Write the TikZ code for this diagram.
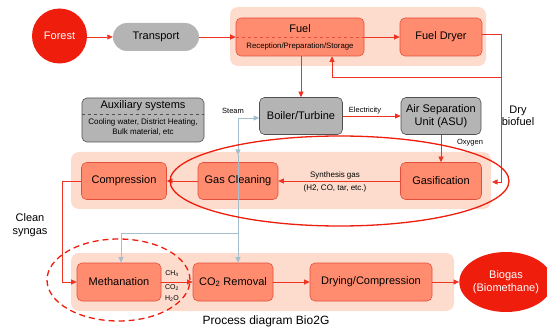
\documentclass[tikz,border=0pt]{standalone}
\usepackage{fontspec}
\setmainfont{Liberation Sans}
\usetikzlibrary{arrows.meta,shapes.geometric}
\definecolor{forestred}{HTML}{EE1D0C}
\definecolor{boxfill}{HTML}{FF8C6E}
\definecolor{boxline}{HTML}{E5503C}
\definecolor{grpbg}{HTML}{FDDCCD}
\definecolor{boxgray}{HTML}{B4B4B4}
\definecolor{grayline}{HTML}{505050}
\definecolor{flowred}{HTML}{EE3322}
\definecolor{steamc}{HTML}{A5BECD}
\begin{document}
\begin{tikzpicture}[x=1pt,y=-1pt,
  proc/.style={draw=boxline, fill=boxfill, rounded corners=5pt, line width=0.6pt, inner sep=0pt, font=\fontsize{11}{13}\selectfont, align=center},
  graybox/.style={draw=grayline, fill=boxgray, rounded corners=5pt, line width=0.6pt, inner sep=0pt, font=\fontsize{11}{13}\selectfont, align=center},
  grp/.style={fill=grpbg, rounded corners=8pt},
  flow/.style={draw=flowred, line width=0.6pt, -{Triangle[length=5.5pt,width=5pt]}},
  steamarrow/.style={draw=steamc, line width=0.7pt, -{Triangle[length=5.5pt,width=5pt]}},
  steamline/.style={draw=steamc, line width=0.7pt},
  lbl/.style={font=\fontsize{7.5}{8.5}\selectfont, inner sep=0pt},
  biglbl/.style={font=\fontsize{11}{12.5}\selectfont, inner sep=0pt, align=center},
  loop/.style={draw=forestred, line width=1.3pt},
]
\useasboundingbox (0,0) rectangle (547,329);
% group backgrounds
\path[grp] (230,7) rectangle (486,66);
\path[grp] (71,152) rectangle (491,209);
\path[grp] (71,253) rectangle (454,311);

% nodes
\node[circle, fill=forestred, minimum size=55pt, inner sep=0pt, text=white, font=\fontsize{11}{13}\selectfont] (forest) at (59.5,36) {Forest};
\node[fill=boxgray, rounded corners=14pt, minimum width=86pt, minimum height=28pt, inner sep=0pt, font=\fontsize{11}{13}\selectfont] (transport) at (156,37) {Transport};
\node[proc, minimum width=128pt, minimum height=38pt] (fuel) at (300,37) {};
\node[biglbl] (fueltitle) at (300,29) {Fuel};
\node[lbl, font=\fontsize{7.8}{9}\selectfont] (fuelsub) at (300,46) {Reception/Preparation/Storage};
\draw[dashed, draw=boxline, line width=0.6pt] (fuel.west) -- (fuel.east);
\node[proc, minimum width=82pt, minimum height=38pt] (dryer) at (441,37) {Fuel Dryer};

\node[graybox, minimum width=122pt, minimum height=44pt] (aux) at (143,120) {};
\node[biglbl] (auxtitle) at (143,106) {Auxiliary systems};
\draw[dashed, draw=grayline, line width=0.6pt] (aux.west |- 0,114) -- (aux.east |- 0,114);
\node[lbl, font=\fontsize{8}{10}\selectfont, align=center] (auxtext) at (143,127.5) {Cooling water, District Heating,\\Bulk material, etc};

\node[graybox, minimum width=83pt, minimum height=37pt] (boiler) at (301,116) {Boiler/Turbine};
\node[graybox, minimum width=80pt, minimum height=37pt] (asu) at (441,116) {Air Separation\\Unit (ASU)};

\node[proc, minimum width=85pt, minimum height=37pt] (compr) at (124,181) {Compression};
\node[proc, minimum width=80pt, minimum height=37pt] (gascl) at (238,181) {Gas Cleaning};
\node[proc, minimum width=81pt, minimum height=37pt] (gasif) at (441,181) {Gasification};

\node[proc, minimum width=84pt, minimum height=38pt] (meth) at (119,282) {Methanation};
\node[proc, minimum width=80pt, minimum height=38pt] (co2) at (233,282) {CO\textsubscript{2} Removal};
\node[proc, minimum width=122pt, minimum height=38pt] (dry) at (371,282) {Drying/Compression};
\node[ellipse, fill=forestred, minimum width=82pt, minimum height=60pt, inner sep=0pt, text=white, align=center, font=\fontsize{11}{13}\selectfont] (biogas) at (506,282) {Biogas\\(Biomethane)};

% flows
\draw[flow] (forest.east |- transport.west) -- (transport.west);
\draw[flow] (transport.east) -- (fuel.west);
\draw[flow] (fuel.east) -- (dryer.west);
\coordinate (dA) at (501,34);
\coordinate (dB) at (501,182);
\coordinate (gasin) at (492,182);
\coordinate (dC) at (501,77);
\coordinate (dD) at (332,77);
\draw[flow] ([yshift=3pt]dryer.east) -- (dA) -- (dB) -- (gasin);
\draw[flow] (dC) -- (dD) -- (fuel.south -| dD);
\draw[flow] (fuel.south -| boiler.north) -- (boiler.north);
\draw[flow] (boiler.east) -- (asu.west);
\node[lbl] (elec) at (365,111) {Electricity};
\draw[flow] (asu.south) -- (gasif.north);
\node[lbl] (oxy) at (470,143) {Oxygen};
\draw[flow] (gasif.west) -- (gascl.east);
\node[lbl, font=\fontsize{8}{9}\selectfont] (syn1) at (335,175) {Synthesis gas};
\node[lbl, font=\fontsize{8}{9}\selectfont] (syn2) at (335,188) {(H2, CO, tar, etc.)};
\draw[flow] (gascl.west) -- (compr.east);
\coordinate (cA) at (62,181);
\coordinate (cB) at (62,282);
\draw[flow] (compr.west) -- (cA) -- (cB) -- (meth.west);
\draw[flow] (meth.east) -- (co2.west);
\draw[flow] (co2.east) -- (dry.west);
\draw[flow] (dry.east) -- (biogas.west);

% steam
\coordinate (sA) at (238,118);
\coordinate (sB) at (238,155);
\coordinate (sC) at (238,233);
\coordinate (sD) at (121,233);
\draw[steamarrow] (sA) -- (boiler.west |- sA);
\draw[steamarrow] (sA) -- (sB);
\draw[steamline] (sB) -- (sC);
\draw[steamarrow] (sC) -- (co2.north -| sC);
\draw[steamarrow] (sC) -- (sD) -- (meth.north -| sD);
\node[lbl] (steam) at (233,111) {Steam};

% text labels
\node[biglbl] (drybio) at (518,116) {Dry\\biofuel};
\node[biglbl] (clean) at (30,225) {Clean\\syngas};
\node[lbl, font=\fontsize{7}{8}\selectfont] (ch4) at (172,274) {CH\textsubscript{4}};
\node[lbl, font=\fontsize{7}{8}\selectfont] (co2l) at (172,288) {CO\textsubscript{2}};
\node[lbl, font=\fontsize{7}{8}\selectfont] (h2o) at (172,299) {H\textsubscript{2}O};
\node[font=\fontsize{12}{14}\selectfont, inner sep=0pt] (title) at (266,321) {Process diagram Bio2G};

% highlight ellipses
\draw[loop] (339.5,181) ellipse [x radius=169.5pt, y radius=45pt];
\draw[loop, dash pattern=on 6pt off 4pt] (118.5,280) ellipse [x radius=71.5pt, y radius=41pt];
\end{tikzpicture}
\end{document}
